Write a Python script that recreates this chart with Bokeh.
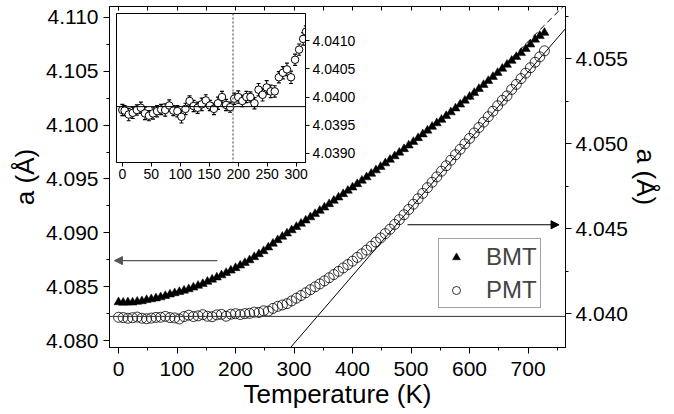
from bokeh.plotting import figure
from bokeh.models import (Range1d, LinearAxis, SingleIntervalTicker, PrintfTickFormatter,
                          Span, Arrow, NormalHead, Legend, LegendItem, Whisker, TeeHead,
                          ColumnDataSource)
from bokeh.layouts import column
from bokeh.embed import file_html
from bokeh.resources import INLINE

FONT = "Liberation Sans"

# ---------------- data ----------------
T_BMT = [0, 8, 16, 24, 32, 40, 48, 56, 64, 72, 80, 88, 96, 104, 112, 120, 128, 136, 144, 152,
         160, 168, 176, 184, 192, 200, 208, 216, 224, 232, 240, 248, 256, 264, 272, 280, 288, 296,
         304, 312, 320, 328, 336, 344, 352, 360, 368, 376, 384, 392, 400, 408, 416, 424, 432, 440,
         448, 456, 464, 472, 480, 488, 496, 504, 512, 520, 528, 536, 544, 552, 560, 568, 576, 584,
         592, 600, 608, 616, 624, 632, 640, 648, 656, 664, 672, 680, 688, 696, 704, 712, 720, 728]
a_BMT = [4.08356, 4.08352, 4.08355, 4.08353, 4.08361, 4.08366, 4.08376, 4.08384, 4.08392, 4.08402,
         4.08414, 4.08428, 4.08440, 4.08452, 4.08464, 4.08477, 4.08492, 4.08509, 4.08526, 4.08546,
         4.08566, 4.08586, 4.08606, 4.08628, 4.08650, 4.08673, 4.08697, 4.08721, 4.08746, 4.08775,
         4.08802, 4.08830, 4.08865, 4.08900, 4.08932, 4.08964, 4.08995, 4.09025, 4.09055, 4.09085,
         4.09115, 4.09145, 4.09175, 4.09205, 4.09236, 4.09267, 4.09298, 4.09329, 4.09360, 4.09391,
         4.09422, 4.09453, 4.09485, 4.09517, 4.09549, 4.09581, 4.09613, 4.09646, 4.09679, 4.09712,
         4.09745, 4.09778, 4.09812, 4.09845, 4.09880, 4.09915, 4.09950, 4.09985, 4.10018, 4.10050,
         4.10085, 4.10120, 4.10156, 4.10192, 4.10228, 4.10264, 4.10300, 4.10337, 4.10374, 4.10411,
         4.10448, 4.10486, 4.10524, 4.10561, 4.10598, 4.10634, 4.10670, 4.10708, 4.10750, 4.10795,
         4.10830, 4.10858]

T_PMT = T_BMT
a_PMT = [4.03978, 4.03976, 4.03972, 4.03975, 4.03979, 4.03972, 4.03969, 4.03973, 4.03977, 4.03978,
         4.03983, 4.03976, 4.03974, 4.03968, 4.03982, 4.03990, 4.03982, 4.03986, 4.03993, 4.03984,
         4.03981, 4.03992, 4.03995, 4.03984, 4.03996, 4.03999, 4.03994, 4.03999, 4.04001, 4.04008,
         4.04006, 4.04016, 4.04014, 4.04030, 4.04042, 4.04050, 4.04058, 4.04074, 4.04090, 4.04106,
         4.04122, 4.04140, 4.04157, 4.04174, 4.04192, 4.04210, 4.04229, 4.04248, 4.04268, 4.04288,
         4.04308, 4.04330, 4.04351, 4.04373, 4.04396, 4.04420, 4.04444, 4.04470, 4.04496, 4.04524,
         4.04552, 4.04581, 4.04612, 4.04643, 4.04675, 4.04707, 4.04740, 4.04772, 4.04804, 4.04837,
         4.04869, 4.04902, 4.04934, 4.04966, 4.04998, 4.05030, 4.05062, 4.05094, 4.05126, 4.05158,
         4.05190, 4.05222, 4.05254, 4.05280, 4.05318, 4.05348, 4.05382, 4.05414, 4.05446, 4.05478,
         4.05510, 4.05545]

T_inset = [0, 4, 11, 18, 25, 32, 39, 46, 53, 60, 67, 74, 81, 88, 95, 102, 109, 116, 123, 130,
           137, 144, 151, 158, 165, 172, 179, 186, 193, 200, 207, 214, 221, 228, 235, 242, 249,
           256, 263, 270, 277, 284, 291, 298, 305, 312, 317]
a_inset = [4.03977, 4.03976, 4.03969, 4.03972, 4.03977, 4.03981, 4.03971, 4.03967, 4.03971, 4.03975,
           4.03978, 4.03977, 4.03985, 4.03976, 4.03975, 4.03965, 4.03979, 4.03993, 4.03984, 4.03981,
           4.03987, 4.03994, 4.03985, 4.03979, 4.03989, 4.04000, 4.03986, 4.03982, 4.03997, 4.04000,
           4.03993, 4.04000, 4.04000, 4.03989, 4.04013, 4.04004, 4.04017, 4.04010, 4.04010, 4.04035,
           4.04043, 4.04049, 4.04035, 4.04066, 4.04084, 4.04103, 4.04116]
err_inset = [10e-5, 9e-5, 11e-5, 10e-5, 9e-5, 10e-5, 11e-5, 9e-5, 10e-5, 10e-5,
             9e-5, 11e-5, 10e-5, 9e-5, 10e-5, 11e-5, 10e-5, 9e-5, 10e-5, 10e-5,
             11e-5, 10e-5, 9e-5, 10e-5, 11e-5, 10e-5, 10e-5, 9e-5, 10e-5, 11e-5,
             10e-5, 10e-5, 9e-5, 10e-5, 11e-5, 11e-5, 12e-5, 11e-5, 10e-5, 10e-5,
             11e-5, 11e-5, 11e-5, 10e-5, 10e-5, 11e-5, 10e-5]

a_baseline = 4.03983          # horizontal reference (right axis / inset)
fit_T = [294, 764]            # high-T linear fit of PMT (right axis)
fit_a = [4.03800, 4.05676]
dash_T = [600, 770]           # high-T linear fit of BMT (left axis)
dash_a = [4.10233, 4.11156]
T_transition = 191            # dotted line in inset

# ---------------- main figure ----------------
p = figure(width=674, height=414, output_backend="svg", toolbar_location=None,
           x_range=Range1d(-15.4, 764), y_range=Range1d(4.07935, 4.11102),
           min_border_left=109, min_border_right=109, min_border_top=6, min_border_bottom=67,
           x_axis_label="Temperature (K)", y_axis_label="a (Å)")
p.frame_align = False
p.extra_y_ranges = {"right": Range1d(4.03800, 4.05806)}
p.xgrid.visible = False
p.ygrid.visible = False
p.outline_line_color = "black"
p.outline_line_width = 1
p.background_fill_color = "white"
p.border_fill_color = "white"


def style_axis(ax, size="21px"):
    ax.major_label_text_font = FONT
    ax.major_label_text_font_size = size
    ax.major_label_text_color = "black"
    ax.axis_label_text_font = FONT
    ax.axis_label_text_font_size = "26px"
    ax.axis_label_text_font_style = "normal"
    ax.axis_label_text_color = "black"
    ax.axis_line_color = "black"
    ax.major_tick_line_color = "black"
    ax.minor_tick_line_color = "black"
    ax.major_tick_in = 0
    ax.minor_tick_in = 0
    ax.major_tick_out = 6
    ax.minor_tick_out = 3


xa = p.xaxis[0]
style_axis(xa)
xa.ticker = SingleIntervalTicker(interval=100, num_minor_ticks=2)
xa.major_label_standoff = 8
xa.axis_label_standoff = 0

ya = p.yaxis[0]
style_axis(ya)
ya.ticker = SingleIntervalTicker(interval=0.005, num_minor_ticks=2)
ya.formatter = PrintfTickFormatter(format="%.3f")
ya.major_label_standoff = 5
ya.axis_label_standoff = 3

ra = LinearAxis(y_range_name="right", axis_label="a (Å)")
style_axis(ra)
ra.ticker = SingleIntervalTicker(interval=0.005, num_minor_ticks=2)
ra.formatter = PrintfTickFormatter(format="%.3f")
ra.major_label_standoff = 4
ra.axis_label_standoff = 0
p.add_layout(ra, "right")

ta = LinearAxis(ticker=SingleIntervalTicker(interval=50, num_minor_ticks=0))
ta.major_tick_in = 4
ta.major_tick_out = 0
ta.minor_tick_in = 0
ta.minor_tick_out = 0
ta.major_label_text_font_size = "1px"
ta.major_label_text_color = None
ta.major_label_standoff = 0
ta.axis_line_color = "black"
p.add_layout(ta, "above")

# reference lines
p.add_layout(Span(location=a_baseline, dimension="width", y_range_name="right",
                  line_color="#333333", line_width=1))
p.line(fit_T, fit_a, y_range_name="right", line_color="black", line_width=1)
p.line(dash_T, dash_a, line_color="black", line_width=1, line_dash="6 4")

# data
r_bmt = p.scatter(T_BMT, a_BMT, marker="triangle", size=9, fill_color="black",
                  line_color="black", line_width=0.5)
r_pmt = p.scatter(T_PMT, a_PMT, y_range_name="right", marker="circle", size=10,
                  fill_color=None, line_color="black", line_width=0.8)

# arrows
p.add_layout(Arrow(end=NormalHead(size=8, fill_color="#555555", line_color="#555555"),
                   x_start=169, y_start=4.08742, x_end=-7, y_end=4.08742,
                   line_color="#555555", line_width=1.2))
p.add_layout(Arrow(end=NormalHead(size=8, fill_color="black", line_color="black"),
                   x_start=494, y_start=4.04522, x_end=753, y_end=4.04522,
                   y_range_name="right", line_color="black", line_width=1.2))

legend = Legend(items=[LegendItem(label="BMT", renderers=[r_bmt]),
                       LegendItem(label="PMT", renderers=[r_pmt])],
                location=(329, 39), label_text_font=FONT, label_text_font_size="24px",
                glyph_width=28, glyph_height=20, label_height=29, label_standoff=16,
                padding=3, spacing=4, margin=0, border_line_color="#444444",
                border_line_width=1, background_fill_color="white", background_fill_alpha=1)
p.add_layout(legend)

# ---------------- inset ----------------
src = ColumnDataSource(dict(T=T_inset, a=a_inset,
                            upper=[a + e for a, e in zip(a_inset, err_inset)],
                            lower=[a - e for a, e in zip(a_inset, err_inset)]))
inset = figure(width=245, height=176, output_backend="svg", toolbar_location=None,
               sizing_mode="fixed",
               x_range=Range1d(-10, 316), y_range=Range1d(4.03884, 4.04148),
               y_axis_location="right", min_border_left=2, min_border_top=2,
               min_border_right=54, min_border_bottom=25)
inset.frame_align = False
inset.xgrid.visible = False
inset.ygrid.visible = False
inset.outline_line_color = "black"
inset.background_fill_color = "white"
inset.border_fill_color = None
for ax in (inset.xaxis[0], inset.yaxis[0]):
    style_axis(ax, size="14px")
    ax.major_tick_out = 4
    ax.minor_tick_out = 0
inset.xaxis[0].ticker = SingleIntervalTicker(interval=50, num_minor_ticks=0)
inset.xaxis[0].major_label_standoff = 2
inset.yaxis[0].ticker = SingleIntervalTicker(interval=0.0005, num_minor_ticks=0)
inset.yaxis[0].formatter = PrintfTickFormatter(format="%.4f")
inset.yaxis[0].major_label_standoff = 3

inset.add_layout(Span(location=a_baseline, dimension="width", line_color="black", line_width=1))
inset.add_layout(Span(location=T_transition, dimension="height", line_color="#555555",
                      line_width=1.2, line_dash="2 2"))
wh = Whisker(base="T", upper="upper", lower="lower", source=src, dimension="height",
             line_color="black", line_width=1,
             upper_head=TeeHead(size=4, line_color="black", line_width=1.2),
             lower_head=TeeHead(size=4, line_color="black", line_width=1.2))
wh.level = "underlay"
inset.add_layout(wh)
inset.scatter("T", "a", source=src, marker="circle", size=7.5, fill_color="white",
              line_color="black", line_width=1)

inset.styles = {"position": "absolute", "left": "114px", "top": "11px"}
lay = column(p, inset, width=674, height=414)
lay.styles = {"position": "relative"}

open("out.html", "w").write(file_html(lay, INLINE))
